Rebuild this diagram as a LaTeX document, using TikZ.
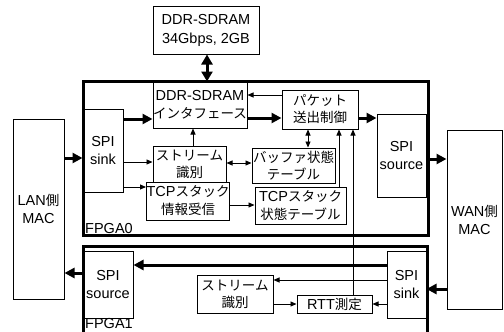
\documentclass[tikz,border=0pt]{standalone}
\usepackage{fontspec}
\setmainfont{Liberation Sans}
\newfontfamily\jp{Noto Sans CJK JP}
\newcommand{\jt}{\jp\fontsize{13.5}{17}\selectfont}
\usetikzlibrary{arrows.meta}
\tikzset{
  box/.style={draw, line width=1pt, inner sep=0pt, align=center, font=\fontsize{14.5}{18}\selectfont},
  fpga/.style={draw, line width=3pt, inner sep=0pt},
  lbl/.style={anchor=base west, inner sep=0pt, font=\fontsize{14.5}{16}\selectfont},
  thickarr/.style={line width=3pt, -{Triangle[length=10pt,width=10pt]}},
  thickbi/.style={line width=3pt, {Triangle[length=10pt,width=11pt]}-{Triangle[length=10pt,width=11pt]}},
  thinarr/.style={line width=0.9pt, -{Triangle[length=6pt,width=5pt]}},
  thinbi/.style={line width=0.9pt, {Triangle[length=6pt,width=5pt]}-{Triangle[length=6pt,width=5pt]}},
  jpt/.style={font=\jt}
}
\begin{document}
\begin{tikzpicture}[x=1pt,y=-1pt]
\useasboundingbox[fill=white] (0,0) rectangle (504,332);
% outer FPGA boxes
\node[fpga, minimum width=345pt, minimum height=154pt] (fpga0) at (255.5,158) {};
\node[fpga, minimum width=344pt, minimum height=100pt] (fpga1) at (255,296) {};
\node[lbl] (l0) at (85,233) {FPGA0};
\node[lbl] (l1) at (85,328.5) {FPGA1};
% external boxes
\node[box, minimum width=106pt, minimum height=48pt] (ddr) at (206,30) {DDR-SDRAM\\[1pt]34Gbps, 2GB};
\node[box, minimum width=51pt, minimum height=180pt] (lanmac) at (38.5,209) {LAN{\jt 側}\\MAC};
\node[box, minimum width=55pt, minimum height=179pt] (wanmac) at (474.5,219.5) {WAN{\jt 側}\\MAC};
% FPGA0 internals
\node[box, minimum width=40pt, minimum height=83pt] (sink0) at (103,150.5) {SPI\\sink};
\node[box, minimum width=94pt, minimum height=46pt] (ddrif) at (200,105) {DDR-SDRAM\\{\jt インタフェース}};
\node[box, jpt, minimum width=76pt, minimum height=39pt] (pkt) at (320,109.5) {パケット\\送出制御};
\node[box, minimum width=49pt, minimum height=83pt] (src0) at (401.5,155.5) {SPI\\source};
\node[box, jpt, minimum width=73pt, minimum height=36pt] (str0) at (189.5,164) {ストリーム\\識別};
\node[box, minimum width=80pt, minimum height=38pt] (tcpinfo) at (188,201) {TCP{\jt スタック}\\{\jt 情報受信}};
\node[box, jpt, minimum width=83pt, minimum height=35pt] (buf) at (293.5,165.5) {バッファ状態\\テーブル};
\node[box, minimum width=91pt, minimum height=37pt] (tcpstate) at (300.5,205.5) {TCP{\jt スタック}\\{\jt 状態テーブル}};
% FPGA1 internals
\node[box, minimum width=50pt, minimum height=67pt] (src1) at (108,284.5) {SPI\\source};
\node[box, minimum width=39pt, minimum height=67pt] (sink1) at (406.5,284.5) {SPI\\sink};
\node[box, jpt, minimum width=76pt, minimum height=38pt] (str1) at (235,294) {ストリーム\\識別};
\node[box, minimum width=75pt, minimum height=18pt] (rtt) at (334.5,304) {RTT{\jt 測定}};
% thick connectors
\draw[thickbi] (ddr.south -| 207,0) -- (ddrif.north -| 207,0);
\draw[thickarr] (lanmac.east |- 0,158) -- (sink0.west |- 0,158);
\draw[thickarr] (sink0.east |- 0,119) -- (ddrif.west |- 0,119);
\draw[thickarr] (ddrif.east |- 0,118) -- (pkt.west |- 0,118);
\draw[thickarr] (pkt.east |- 0,118) -- (src0.west |- 0,118);
\draw[thickarr] (src0.east |- 0,159) -- (wanmac.west |- 0,159);
\draw[thickarr] (wanmac.west |- 0,289) -- (sink1.east |- 0,289);
\draw[thickarr] (sink1.west |- 0,265) -- (src1.east |- 0,265);
\draw[thickarr] (src1.west |- 0,273) -- (lanmac.east |- 0,273);
% thin connectors
\draw[thinarr] (pkt.west |- 0,95) -- (ddrif.east |- 0,95);
\draw[thinarr] (str0.north -| 193,0) -- (ddrif.south -| 193,0);
\draw[thinarr] (sink0.east |- 0,162) -- (str0.west |- 0,162);
\draw[thinarr] (sink0.east |- 0,187) -- (tcpinfo.west |- 0,187);
\draw[thinbi] (str0.east |- 0,163) -- (buf.west |- 0,163);
\draw[thinbi] (pkt.south -| 308,0) -- (buf.north -| 308,0);
\draw[thinarr] (tcpinfo.east |- 0,205) -- (tcpstate.west |- 0,205);
\draw[thinarr] (tcpstate.north -| 339,0) -- (pkt.south -| 339,0);
\draw[thinarr] (rtt.north -| 353,0) -- (pkt.south -| 353,0);
\draw[thinarr] (sink1.west |- 0,280) -- (str1.east |- 0,280);
\draw[thinarr] (str1.east |- 0,304) -- (rtt.west |- 0,304);
\draw[thinarr] (sink1.west |- 0,304) -- (rtt.east |- 0,304);
\end{tikzpicture}
\end{document}
